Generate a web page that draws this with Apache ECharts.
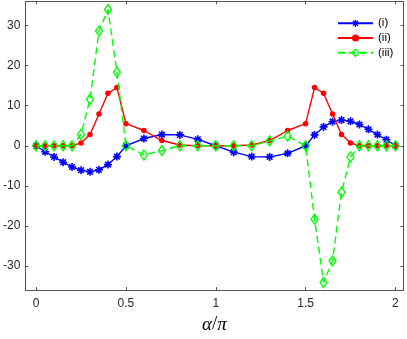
<!DOCTYPE html>
<html><head><meta charset="utf-8">
<script src="https://cdn.jsdelivr.net/npm/echarts@6/dist/echarts.min.js"></script>
<style>html,body{margin:0;padding:0;background:#fff}#c{width:407px;height:339px}</style>
</head><body><div id="c"></div>
<script>
// alpha / pi sample positions
const alpha = [0,0.05,0.1,0.15,0.2,0.25,0.3,0.35,0.4,0.45,0.5,0.6,0.7,0.8,0.9,1.0,1.1,1.2,1.3,1.4,1.5,1.55,1.6,1.65,1.7,1.75,1.8,1.85,1.9,1.95,2.0];
const seriesI   = [0,-1.5,-2.8,-4.1,-5.3,-6.1,-6.5,-6.0,-4.7,-2.7,0, 1.8,2.8,2.7,1.6,0,-1.6,-2.7,-2.8,-1.9,0, 2.7,4.7,6.0,6.4,6.1,5.3,4.1,2.8,1.5,0];
const seriesII  = [0,0,0,0,0,0.7,2.8,7.9,13.1,14.5,5.5, 3.8,1.3,0.2,0,0,0,0.2,1.3,3.8,5.5, 14.5,13.1,7.9,2.8,0.7,0,0,0,0,0];
const seriesIII = [0,0,0,0,0,2.8,11.6,28.6,34.0,18.3,0, -2.3,-1.2,0,0,0,0,0,1.2,2.4,0, -18.3,-34.1,-28.7,-11.6,-2.8,0,0,0,0,0];
const legendNames = ['(i)','(ii)','(iii)'];
const xTicks = [0,0.5,1,1.5,2];
const yTicks = [-30,-20,-10,0,10,20,30];

const chart = echarts.init(document.getElementById('c'), null, {renderer:'canvas'});
const axisColor = '#555555';
const labelFont = {fontFamily:'"Liberation Sans", Arial, Helvetica, sans-serif', fontSize:12, color:'#262626'};
function pairs(ys){ return alpha.map((x,i)=>[x, ys[i]]); }
function xAxisDef(pos, showLabel){
  return {type:'value', position:pos, min:-0.06, max:2.045,
    splitLine:{show:false},
    axisLine:{onZero:false, lineStyle:{color:axisColor, width:1}},
    axisTick:{inside:true, length:3, customValues:xTicks, lineStyle:{color:axisColor}},
    axisLabel:Object.assign({show:showLabel, customValues:xTicks, margin:8}, labelFont)};
}
function yAxisDef(pos, showLabel){
  return {type:'value', position:pos, min:-36, max:36,
    splitLine:{show:false},
    axisLine:{onZero:false, lineStyle:{color:axisColor, width:1}},
    axisTick:{inside:true, length:3, customValues:yTicks, lineStyle:{color:axisColor}},
    axisLabel:Object.assign({show:showLabel, customValues:yTicks, margin:5}, labelFont)};
}
const bottomX = xAxisDef('bottom', true);
bottomX.name = '{i|α}{n|/}{i|π}';
bottomX.nameLocation = 'middle';
bottomX.nameGap = 23.5;
bottomX.nameTextStyle = {rich:{
  i:{fontFamily:'"Liberation Serif","DejaVu Serif",serif', fontStyle:'italic', fontSize:19, color:'#000'},
  n:{fontFamily:'"Liberation Serif","DejaVu Serif",serif', fontSize:19, color:'#000'}
}};
const asterisk = 'path://M-1,0L1,0M0,-1L0,1M-0.7,-0.7L0.7,0.7M-0.7,0.7L0.7,-0.7';

chart.setOption({
  animation:false,
  backgroundColor:'#ffffff',
  grid:{left:24.5, right:3.5, top:1.4, bottom:46.4, containLabel:false},
  xAxis:[bottomX, xAxisDef('top', false)],
  yAxis:[yAxisDef('left', true), yAxisDef('right', false)],
  legend:{orient:'vertical', left:337, top:17.3, padding:0, itemWidth:35, itemHeight:9, itemGap:2.7,
    itemStyle:{borderWidth:1.3},
    textStyle:{fontFamily:'"Liberation Sans", Arial, sans-serif', fontSize:11.5, color:'#000', lineHeight:12},
    data:legendNames},
  series:[
    {name:legendNames[0], type:'line', xAxisIndex:0, yAxisIndex:0, data:pairs(seriesI),
      symbol:asterisk, symbolSize:8,
      lineStyle:{color:'#0000ff', width:1.4},
      itemStyle:{color:'#0000ff', borderColor:'#0000ff', borderWidth:1.6},
      emphasis:{disabled:true}, z:2},
    {name:legendNames[1], type:'line', xAxisIndex:0, yAxisIndex:0, data:pairs(seriesII),
      symbol:'circle', symbolSize:5.5,
      lineStyle:{color:'#ff0000', width:1.4},
      itemStyle:{color:'#ff0000', borderColor:'rgba(255,0,0,0)', borderWidth:0},
      emphasis:{disabled:true}, z:3},
    {name:legendNames[2], type:'line', xAxisIndex:0, yAxisIndex:0, data:pairs(seriesIII),
      symbol:'diamond', symbolSize:[7,10],
      lineStyle:{color:'#00ff00', width:1.4, type:[7,4]},
      itemStyle:{color:'rgba(0,0,0,0)', borderColor:'#00ff00', borderWidth:1.4},
      emphasis:{disabled:true}, z:4}
  ]
});
</script></body></html>
